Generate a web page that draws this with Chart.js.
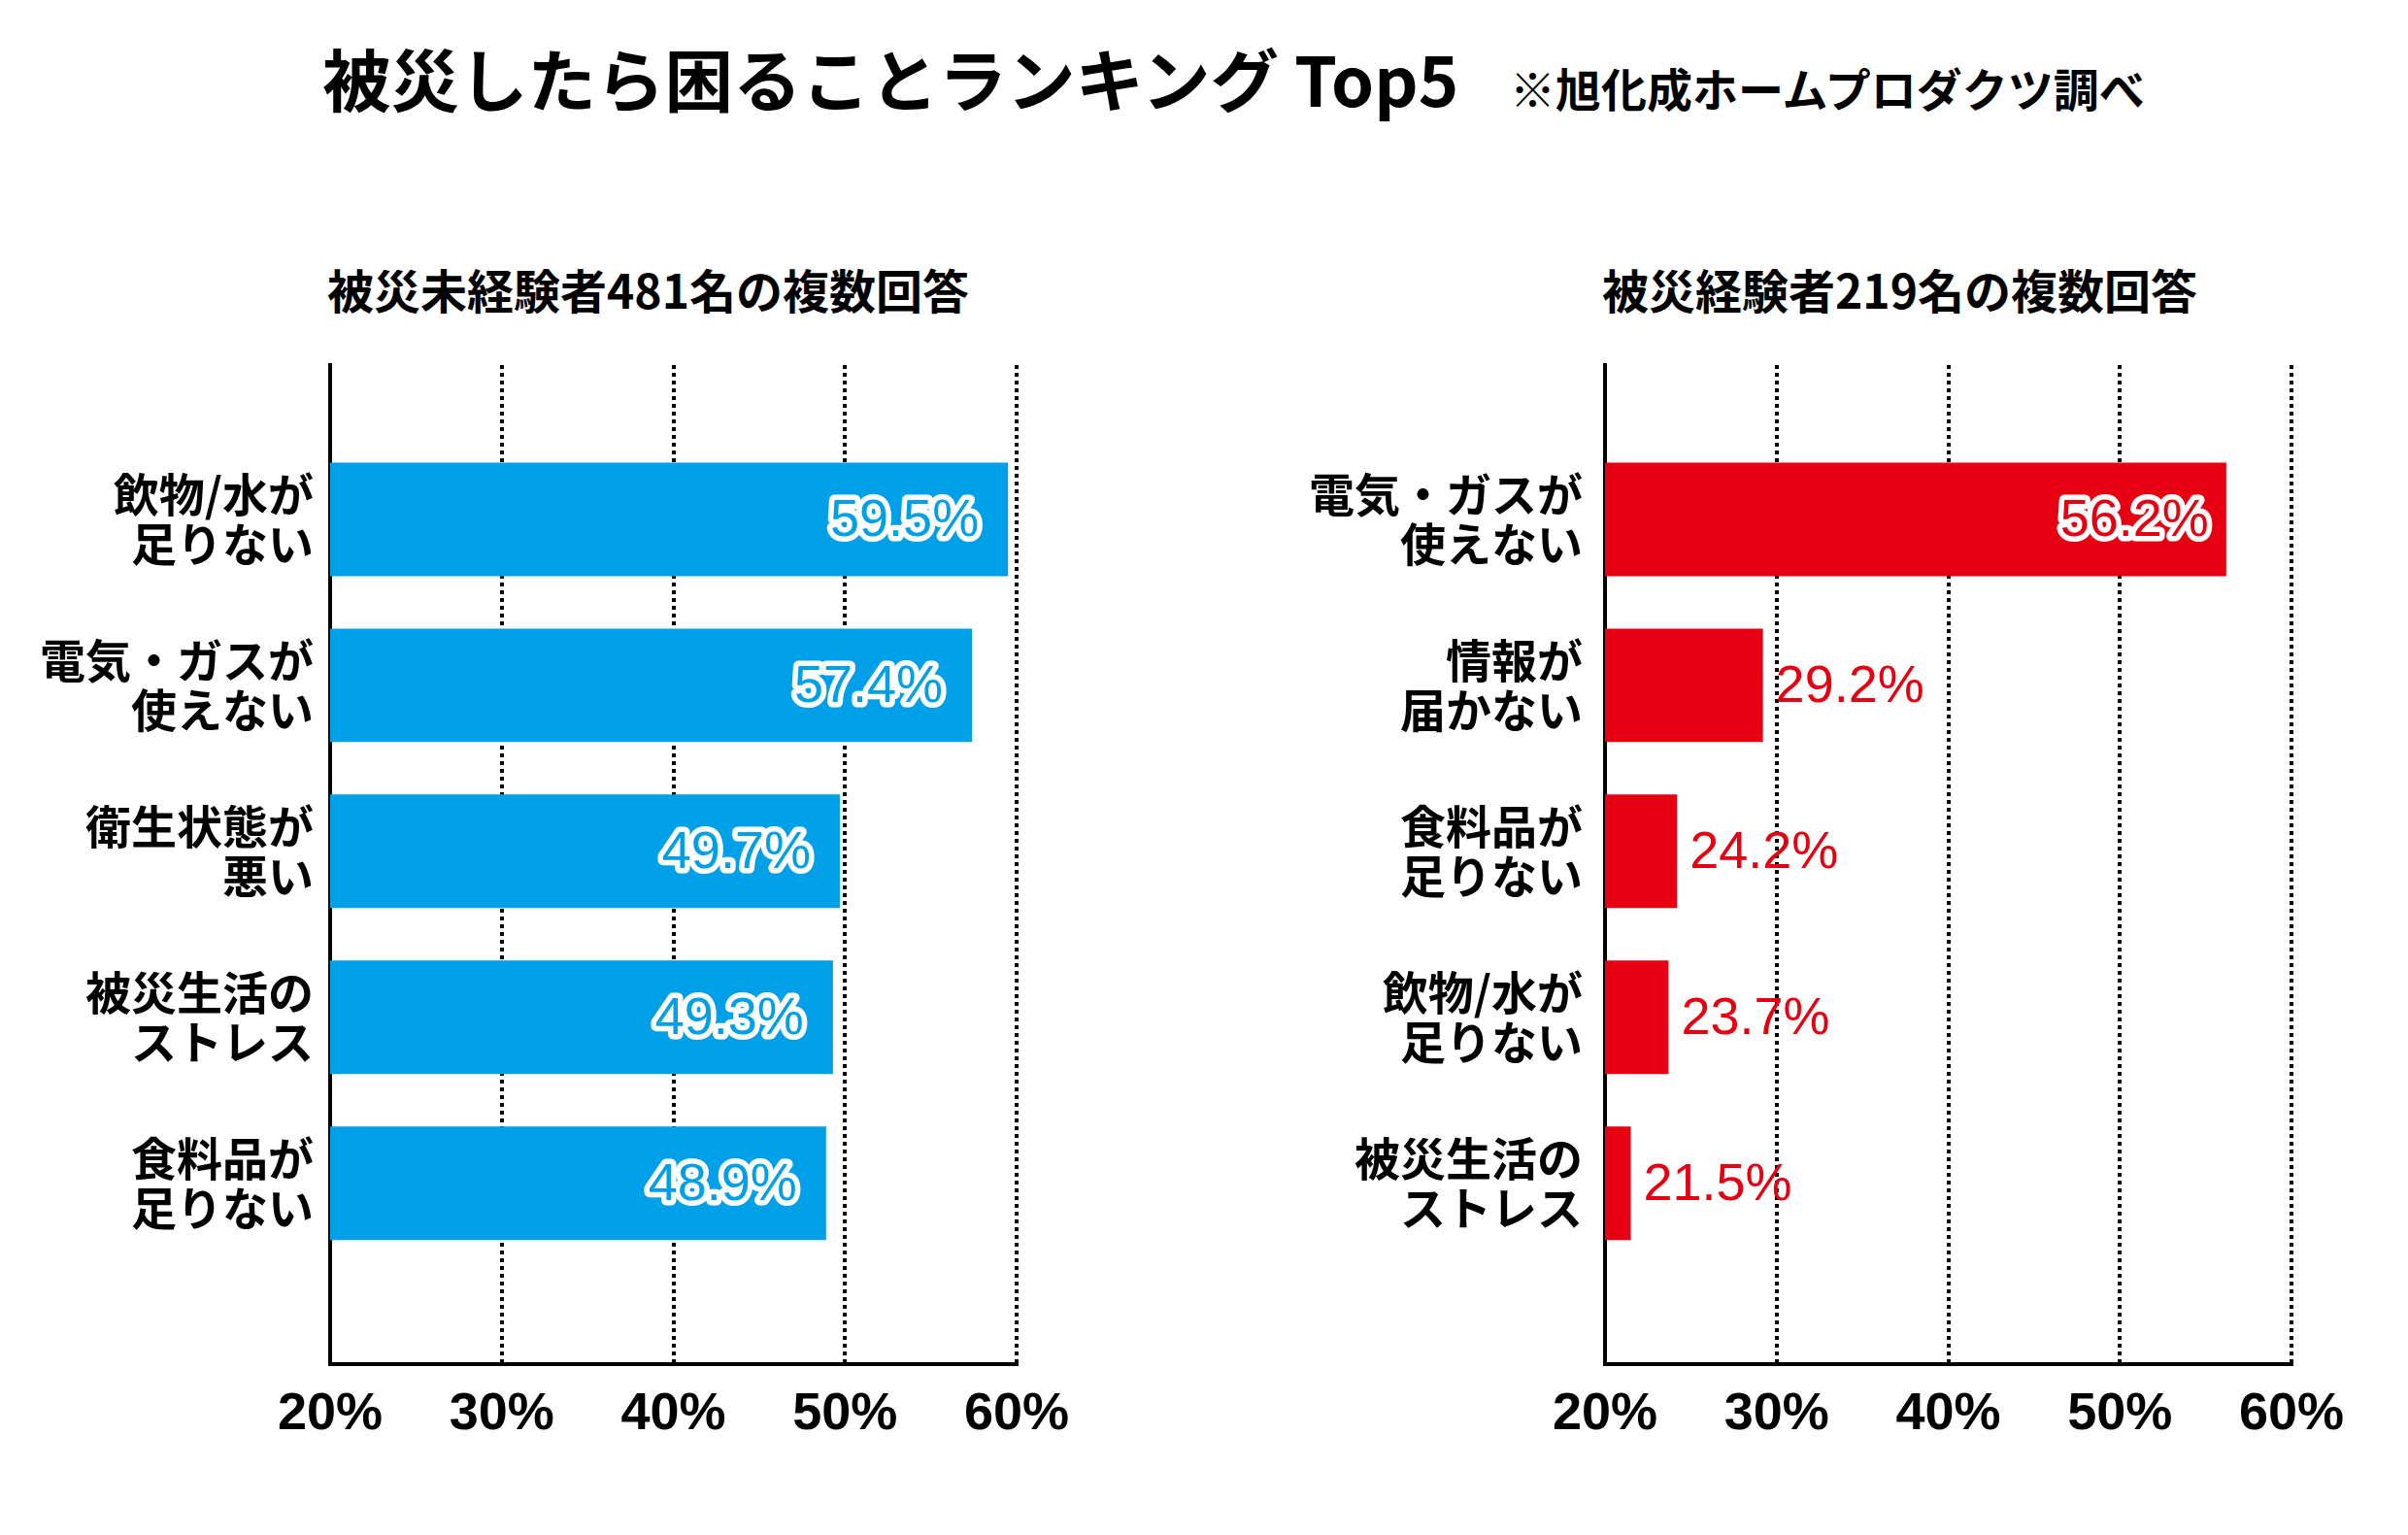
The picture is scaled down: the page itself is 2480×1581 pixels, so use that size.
<!DOCTYPE html>
<html lang="ja">
<head>
<meta charset="utf-8">
<title>被災したら困ることランキング Top5</title>
<script src="https://cdn.jsdelivr.net/npm/chart.js@4.4.1/dist/chart.umd.min.js"></script>
<style>
  html, body { margin: 0; padding: 0; background: #fff; }
  body { width: 2480px; height: 1581px; position: relative; overflow: hidden;
         font-family: "Noto Sans CJK JP", sans-serif; color: #000; }
  .txt { position: absolute; white-space: nowrap; font-weight: 700; line-height: 1; }
  #title { left: 332px; top: 44px; font-size: 70.5px; }
  #note { left: 1555px; top: 66px; font-size: 47px; }
  .sub { top: 273px; font-size: 48px; }
  .box { position: absolute; top: 0; width: 1240px; height: 1581px; }
</style>
</head>
<body>
<div class="txt" id="title">被災したら困ることランキング Top5</div>
<div class="txt" id="note">※旭化成ホームプロダクツ調べ</div>
<div class="txt sub" style="left:337px">被災未経験者481名の複数回答</div>
<div class="txt sub" style="left:1650px">被災経験者219名の複数回答</div>

<div class="box" style="left:0"><canvas id="leftChart" width="1240" height="1581"></canvas></div>
<div class="box" style="left:1240px"><canvas id="rightChart" width="1240" height="1581"></canvas></div>

<script>
// 被災未経験者 (n=481)
const leftCategories = [
    ['飲物/水が', '足りない'],
    ['電気・ガスが', '使えない'],
    ['衛生状態が', '悪い'],
    ['被災生活の', 'ストレス'],
    ['食料品が', '足りない']
];
const leftValues = [59.5, 57.4, 49.7, 49.3, 48.9];

// 被災経験者 (n=219)
const rightCategories = [
    ['電気・ガスが', '使えない'],
    ['情報が', '届かない'],
    ['食料品が', '足りない'],
    ['飲物/水が', '足りない'],
    ['被災生活の', 'ストレス']
];
const rightValues = [56.2, 29.2, 24.2, 23.7, 21.5];

const axisMin = 20;
const axisMax = 60;
const axisStep = 10;

const BLUE = '#00A0E9';
const RED = '#E60012';
const numFont = '"Liberation Sans", Arial, sans-serif';
const jpFont = '"Noto Sans CJK JP", sans-serif';

// percentage labels: white-outlined text inside long bars, coloured text after short ones
const valueLabels = {
    id: 'valueLabels',
    afterDatasetsDraw(chart, args, opts) {
        const ctx = chart.ctx;
        const meta = chart.getDatasetMeta(0);
        const values = chart.data.datasets[0].data;
        ctx.save();
        ctx.textBaseline = 'middle';
        ctx.lineJoin = 'round';
        meta.data.forEach((bar, i) => {
            const text = values[i].toFixed(1) + '%';
            const y = bar.y + 2;
            if (values[i] >= opts.insideFrom) {
                const x = bar.x - opts.insideGap;
                ctx.font = '54px ' + numFont;
                ctx.textAlign = 'right';
                ctx.strokeStyle = '#fff';
                ctx.lineWidth = 11;
                ctx.strokeText(text, x, y);
                ctx.fillStyle = opts.color;
                ctx.fillText(text, x, y);
            } else {
                ctx.font = '54px ' + numFont;
                ctx.textAlign = 'left';
                ctx.fillStyle = opts.color;
                ctx.fillText(text, bar.x + 13, y);
            }
        });
        ctx.restore();
    }
};

function makeChart(canvasId, categories, values, color, yWidth, padRight, labelPad, insideGap) {
    const ctx = document.getElementById(canvasId).getContext('2d');
    return new Chart(ctx, {
        type: 'bar',
        data: {
            labels: categories,
            datasets: [{
                data: values,
                backgroundColor: color,
                borderWidth: 0,
                categoryPercentage: 0.684,
                barPercentage: 1
            }]
        },
        plugins: [valueLabels],
        options: {
            indexAxis: 'y',
            responsive: false,
            animation: false,
            layout: { padding: { top: 376, right: padRight, bottom: 66, left: 0 } },
            plugins: {
                legend: { display: false },
                tooltip: { enabled: false },
                valueLabels: { color: color, insideFrom: 40, insideGap: insideGap }
            },
            scales: {
                x: {
                    type: 'linear',
                    min: axisMin,
                    max: axisMax,
                    afterFit(scale) { scale.height = 110; },
                    ticks: {
                        stepSize: axisStep,
                        callback: v => v + '%',
                        color: '#000',
                        font: { family: numFont, size: 54, weight: 'bold' },
                        padding: 20
                    },
                    grid: {
                        color: c => (c.tick && c.tick.value === axisMin) ? 'rgba(0,0,0,0)' : '#000',
                        lineWidth: 4,
                        drawTicks: false
                    },
                    border: { display: true, color: '#000', width: 4, dash: [4, 4] }
                },
                y: {
                    type: 'category',
                    offset: false,
                    afterBuildTicks(scale) {
                        // the source leaves a bit more room under the last bar than above the first
                        scale._startValue = -0.93;
                        scale._valueRange = 6.02;
                    },
                    afterFit(scale) { scale.width = yWidth; },
                    grid: { display: false },
                    border: { display: true, color: '#000', width: 4 },
                    ticks: {
                        autoSkip: false,
                        color: '#000',
                        padding: labelPad,
                        font: { family: jpFont, size: 47, weight: 'bold', lineHeight: 1.08 }
                    }
                }
            }
        }
    });
}

makeChart('leftChart', leftCategories, leftValues, BLUE, 340, 193, 9, 30);
makeChart('rightChart', rightCategories, rightValues, RED, 413, 120, 15, 18);
</script>
</body>
</html>
